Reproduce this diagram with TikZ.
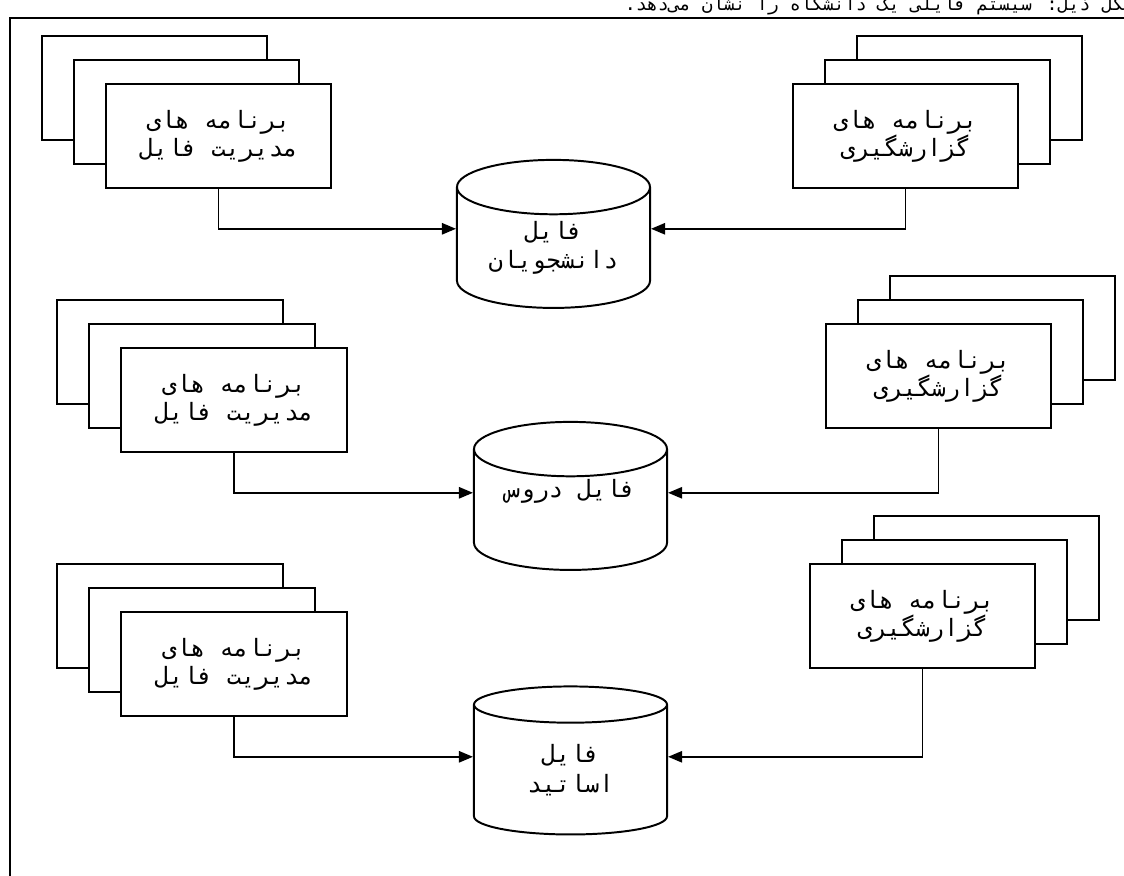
\documentclass[tikz,border=0pt]{standalone}
\usepackage{fontspec}
\newfontfamily\farsi[Script=Arabic]{DejaVu Sans Mono}
\TeXXeTstate=1
\newcommand{\fatext}[1]{\beginR #1\endR}
\usetikzlibrary{shapes.geometric, arrows.meta}

\begin{document}
\begin{tikzpicture}[x=0.025cm, y=-0.025cm,
	prog/.style={draw, line width=1.4pt, fill=white, minimum width=5.625cm,
		minimum height=2.6cm, inner sep=0pt, align=center,
		font=\farsi\fontsize{17}{20}\selectfont},
	dbfile/.style={cylinder, shape border rotate=90, draw, line width=1.4pt,
		aspect=0.42, minimum width=4.825cm, minimum height=3.7cm, inner sep=0pt,
		align=center, font=\farsi\fontsize{17}{21}\selectfont},
	feed/.style={line width=1.4pt, -{Triangle[length=0.35cm, width=0.28cm]}}]
	\useasboundingbox (0,0) rectangle (1124,875);
	\clip (0,0) rectangle (1124,875);

	\draw[line width=1.4pt] (10,900) -- (10,18) -- (1140,18);
	\node[anchor=base east, inner sep=0pt, font=\farsi\fontsize{13}{20}\selectfont] (cap) at (1135,10)
		{\fatext{شکل ذیل: سیستم فایلی یک دانشگاه را نشان می‌دهد.}};

	\node[prog] (a1b) at (154.5,88) {};
	\node[prog] (a1m) at (186.5,112) {};
	\node[prog] (a1) at (218.5,136) {\fatext{برنامه های}\\\fatext{مدیریت فایل}};

	\node[prog] (b1b) at (969.5,88) {};
	\node[prog] (b1m) at (937.5,112) {};
	\node[prog] (b1) at (905.5,136) {\fatext{برنامه های}\\\fatext{گزارشگیری}};

	\node[dbfile] (f1) at (553.5,248) {\fatext{فایل}\\\fatext{دانشجویان}};

	\node[prog] (a2b) at (170,352) {};
	\node[prog] (a2m) at (202,376) {};
	\node[prog] (a2) at (234,400) {\fatext{برنامه های}\\\fatext{مدیریت فایل}};

	\node[prog] (b2b) at (1002.5,328) {};
	\node[prog] (b2m) at (970.5,352) {};
	\node[prog] (b2) at (938.5,376) {\fatext{برنامه های}\\\fatext{گزارشگیری}};

	\node[dbfile] (f2) at (570.5,510) {\fatext{فایل دروس}\\[4pt]\strut};

	\node[prog] (a3b) at (170,616) {};
	\node[prog] (a3m) at (202,640) {};
	\node[prog] (a3) at (234,664) {\fatext{برنامه های}\\\fatext{مدیریت فایل}};

	\node[prog] (b3b) at (986.5,568) {};
	\node[prog] (b3m) at (954.5,592) {};
	\node[prog] (b3) at (922.5,616) {\fatext{برنامه های}\\\fatext{گزارشگیری}};

	\node[dbfile] (f3) at (570.5,770) {\fatext{فایل}\\\fatext{اساتید}};

	\draw[feed] (a1.south) |- ([yshift=0.48cm]f1.west);
	\draw[feed] (b1.south) |- ([yshift=0.48cm]f1.east);
	\draw[feed] (a2.south) |- ([yshift=0.43cm]f2.west);
	\draw[feed] (b2.south) |- ([yshift=0.43cm]f2.east);
	\draw[feed] (a3.south) |- ([yshift=0.33cm]f3.west);
	\draw[feed] (b3.south) |- ([yshift=0.33cm]f3.east);
\end{tikzpicture}
\end{document}
